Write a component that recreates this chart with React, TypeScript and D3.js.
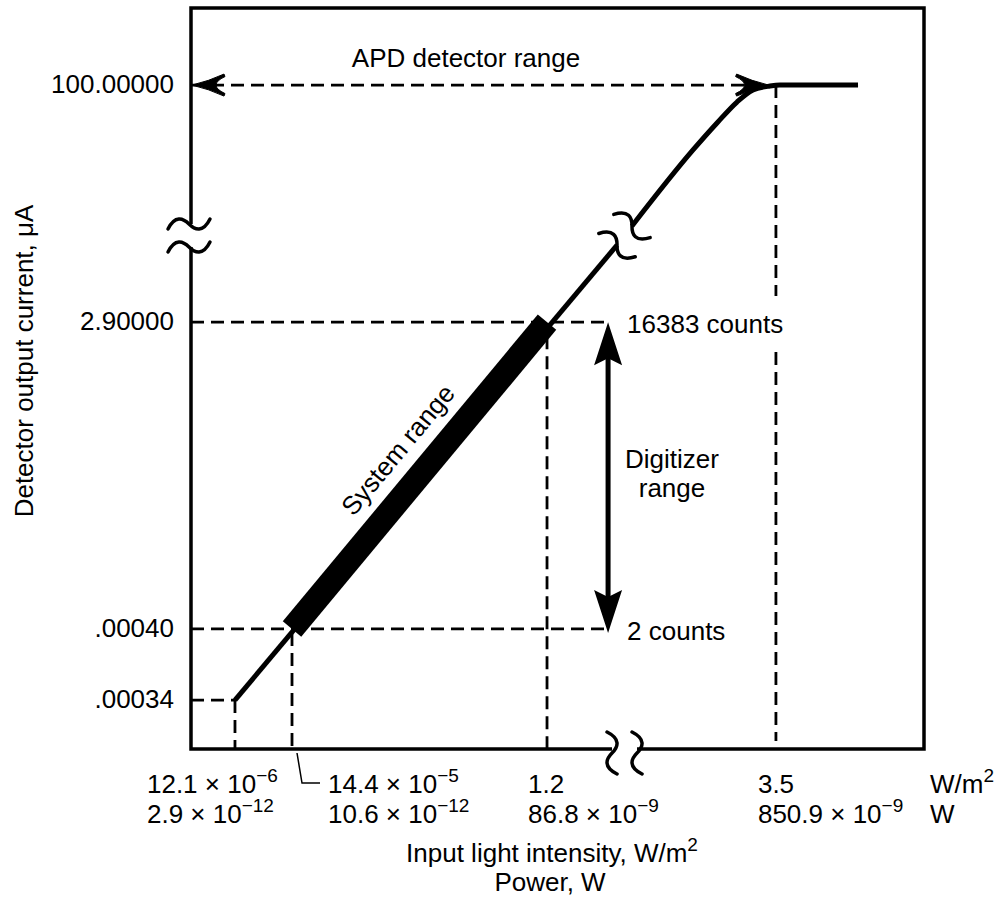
import React from "react";
import * as d3 from "d3";

// ---- data (schematic axis units 0..100 on each broken axis) ----
const yTickLabels = ["100.00000", "2.90000", ".00040", ".00034"];
const yTickValues = [89.6, 57.6, 16.2, 6.6];

const xTickValues = [6.0, 13.78, 48.57, 79.8];
const xIntensityMant = ["12.1", "14.4", "1.2", "3.5"];
const xIntensityExp = ["−6", "−5", "", ""];
const xPowerMant = ["2.9", "10.6", "86.8", "850.9"];
const xPowerExp = ["−12", "−12", "−9", "−9"];

// detector response curve (broken between the two segments)
const responseLow: [number, number][] = [
  [6.0, 6.6],
  [58.12, 68.0],
];
const responseHigh: [number, number][] = [
  [60.16, 70.58],
  [68.49, 80.84],
  [71.76, 84.48],
  [74.49, 87.31],
  [76.67, 88.93],
  [78.99, 89.47],
  [80.35, 89.6],
  [91.0, 89.6],
];
// system range: from (14.4e-5, .00040) to (1.2, 2.9)
const systemRange: [number, number][] = [
  [13.78, 16.2],
  [48.57, 57.6],
];
const digitizerX = 56.9;
const apdArrowEndX = 78.8;
const yBreaks = [70.85, 67.75];
const xBreaks = [57.44, 60.85];

const FONT = "'Liberation Sans', Arial, Helvetica, sans-serif";
const FS = 26;
const SUP = 19;

export default function App() {
  const W = 1001,
    H = 903;
  const x = d3.scaleLinear().domain([0, 100]).range([191, 924]);
  const y = d3.scaleLinear().domain([0, 100]).range([749, 8]);
  const line = d3
    .line<[number, number]>()
    .x((d) => x(d[0]))
    .y((d) => y(d[1]));
  const curveLine = d3
    .line<[number, number]>()
    .x((d) => x(d[0]))
    .y((d) => y(d[1]))
    .curve(d3.curveMonotoneX);

  const squig = "M-21,5 C-14,-9 -6,-6 0,0 C6,6 14,9 21,-5";
  const dash = "13,7";
  const dashW = 2.8;

  const frame = [
    `M${x(0)},${y(yBreaks[1])} L${x(0)},${y(0)} L${x(xBreaks[0])},${y(0)}`,
    `M${x(xBreaks[1])},${y(0)} L${x(100)},${y(0)} L${x(100)},${y(100)} L${x(0)},${y(100)} L${x(0)},${y(yBreaks[0])}`,
  ].join(" ");

  // system bar geometry
  const s0 = [x(systemRange[0][0]), y(systemRange[0][1])];
  const s1 = [x(systemRange[1][0]), y(systemRange[1][1])];
  const ang = (Math.atan2(s1[1] - s0[1], s1[0] - s0[0]) * 180) / Math.PI;
  const len = Math.hypot(s1[0] - s0[0], s1[1] - s0[1]);
  const ux = (s1[0] - s0[0]) / len,
    uy = (s1[1] - s0[1]) / len;
  // perpendicular pointing to the upper-left of the bar
  const px = uy,
    py = -ux;
  const tAlong = len / 2 + 6;
  const tPerp = 24;
  const txp = s0[0] + ux * tAlong + px * tPerp;
  const typ = s0[1] + uy * tAlong + py * tPerp;

  const curveAng =
    (Math.atan2(
      y(responseHigh[0][1]) - y(responseLow[1][1]),
      x(responseHigh[0][0]) - x(responseLow[1][0])
    ) *
      180) /
      Math.PI +
    98;

  const apdY = y(yTickValues[0]);
  const digTop = y(yTickValues[1]);
  const digBot = y(yTickValues[2]) + 4;
  const dx = x(digitizerX);

  const labelDx = [-88, 36, -19, -18];
  const base1 = 793,
    base2 = 823;
  const countsTextX = x(digitizerX) + 19;

  const text = (props: any, children: any) => (
    <text fontFamily={FONT} fontSize={FS} fill="#000" {...props}>
      {children}
    </text>
  );

  const sci = (m: string, e: string, tx: number, ty: number, key: string) => (
    <text key={key} x={tx} y={ty} fontFamily={FONT} fontSize={FS} fill="#000">
      {m}
      {e ? " × 10" : ""}
      {e ? (
        <tspan fontSize={SUP} dy={-11}>
          {e}
        </tspan>
      ) : null}
    </text>
  );

  return (
    <svg
      width={W}
      height={H}
      style={{ position: "absolute", left: 0, top: 0, background: "#fff" }}
    >
      <rect x={0} y={0} width={W} height={H} fill="#fff" />

      {/* dashed guides */}
      <g stroke="#000" strokeWidth={dashW} strokeDasharray={dash} fill="none">
        <line x1={x(0)} x2={x(apdArrowEndX) - 20} y1={apdY} y2={apdY} />
        <line x1={x(0)} x2={dx} y1={y(yTickValues[1])} y2={y(yTickValues[1])} />
        <line x1={x(0)} x2={dx} y1={y(yTickValues[2])} y2={y(yTickValues[2])} />
        <line x1={x(0)} x2={x(xTickValues[0])} y1={y(yTickValues[3])} y2={y(yTickValues[3])} />
        <line x1={x(xTickValues[0])} x2={x(xTickValues[0])} y1={y(yTickValues[3])} y2={y(0)} />
        <line x1={x(xTickValues[1])} x2={x(xTickValues[1])} y1={y(yTickValues[2]) + 4} y2={y(0)} />
        <line x1={x(xTickValues[2])} x2={x(xTickValues[2])} y1={y(yTickValues[1]) + 14} y2={y(0)} />
        <line x1={x(xTickValues[3])} x2={x(xTickValues[3])} y1={apdY} y2={296} />
        <line x1={x(xTickValues[3])} x2={x(xTickValues[3])} y1={352} y2={y(0) - 8} />
      </g>

      {/* APD arrowheads */}
      <path
        d="M0,0 Q17,-4 32,-11 L33,-8.5 Q15,0 33,8.5 L32,11 Q17,4 0,0 Z"
        transform={`translate(${x(0) + 1},${apdY})`}
        fill="#000"
        stroke="#000"
        strokeWidth={1}
      />
      <path
        d="M0,0 Q17,-4 32,-11 L33,-8.5 Q15,0 33,8.5 L32,11 Q17,4 0,0 Z"
        transform={`translate(${x(apdArrowEndX)},${apdY}) scale(-1,1)`}
        fill="#000"
        stroke="#000"
        strokeWidth={1}
      />

      {/* frame */}
      <path d={frame} fill="none" stroke="#000" strokeWidth={3.5} strokeLinejoin="miter" />
      {yBreaks.map((b, i) => (
        <path
          key={"yb" + i}
          d={squig}
          transform={`translate(${x(0) - 2},${y(b)})`}
          fill="none"
          stroke="#000"
          strokeWidth={3.5}
          strokeLinecap="round"
        />
      ))}
      {xBreaks.map((b, i) => (
        <path
          key={"xb" + i}
          d={squig}
          transform={`translate(${x(b)},${y(0) + 4}) rotate(90)`}
          fill="none"
          stroke="#000"
          strokeWidth={3.5}
          strokeLinecap="round"
        />
      ))}

      {/* response curve */}
      <path d={line(responseLow) || ""} fill="none" stroke="#000" strokeWidth={5} />
      <path d={curveLine(responseHigh) || ""} fill="none" stroke="#000" strokeWidth={5} />
      {[responseLow[1], responseHigh[0]].map((p, i) => (
        <path
          key={"cb" + i}
          d={squig}
          transform={`translate(${x(p[0])},${y(p[1])}) rotate(${curveAng})`}
          fill="none"
          stroke="#000"
          strokeWidth={3.5}
          strokeLinecap="round"
        />
      ))}

      {/* system range bar */}
      <line x1={s0[0]} y1={s0[1]} x2={s1[0]} y2={s1[1]} stroke="#000" strokeWidth={24} />
      {text(
        {
          x: txp,
          y: typ,
          textAnchor: "middle",
          transform: `rotate(${ang},${txp},${typ})`,
        },
        "System range"
      )}

      {/* digitizer arrow */}
      <line x1={dx} x2={dx} y1={digTop + 30} y2={digBot - 30} stroke="#000" strokeWidth={5} />
      <path d="M0,0 L14,43 L0,36 L-14,43 Z" transform={`translate(${dx},${digTop})`} fill="#000" />
      <path d="M0,0 L14,43 L0,36 L-14,43 Z" transform={`translate(${dx},${digBot}) scale(1,-1)`} fill="#000" />
      {text({ x: 672, y: 468, textAnchor: "middle" }, "Digitizer")}
      {text({ x: 672, y: 497, textAnchor: "middle" }, "range")}
      {text({ x: countsTextX, y: digTop + 11 }, "16383 counts")}
      {text({ x: countsTextX, y: y(yTickValues[2]) + 11 }, "2 counts")}

      {text({ x: 466, y: 67, textAnchor: "middle" }, "APD detector range")}

      {/* y tick labels */}
      {yTickLabels.map((l, i) =>
        text({ key: "yt" + i, x: 174, y: y(yTickValues[i]) + 8, textAnchor: "end" }, l)
      )}

      {/* x tick labels */}
      {xTickValues.map((v, i) => sci(xIntensityMant[i], xIntensityExp[i], x(v) + labelDx[i], base1, "xi" + i))}
      {xTickValues.map((v, i) => sci(xPowerMant[i], xPowerExp[i], x(v) + labelDx[i], base2, "xp" + i))}
      <path
        d={`M${x(xTickValues[1]) + 5},${y(0) + 4} L${x(xTickValues[1]) + 10},${base1 - 10} L${x(xTickValues[1]) + 28},${base1 - 10}`}
        fill="none"
        stroke="#000"
        strokeWidth={1.5}
      />
      <text x={930} y={base1} fontFamily={FONT} fontSize={FS}>
        W/m<tspan fontSize={SUP} dy={-11}>2</tspan>
      </text>
      {text({ x: 930, y: base2 }, "W")}

      {/* axis titles */}
      <text x={552} y={862} fontFamily={FONT} fontSize={FS} textAnchor="middle">
        Input light intensity, W/m<tspan fontSize={SUP} dy={-11}>2</tspan>
      </text>
      {text({ x: 550, y: 891, textAnchor: "middle" }, "Power, W")}
      {text(
        { x: 33, y: 361, textAnchor: "middle", transform: "rotate(-90,33,361)" },
        "Detector output current, μA"
      )}
    </svg>
  );
}
